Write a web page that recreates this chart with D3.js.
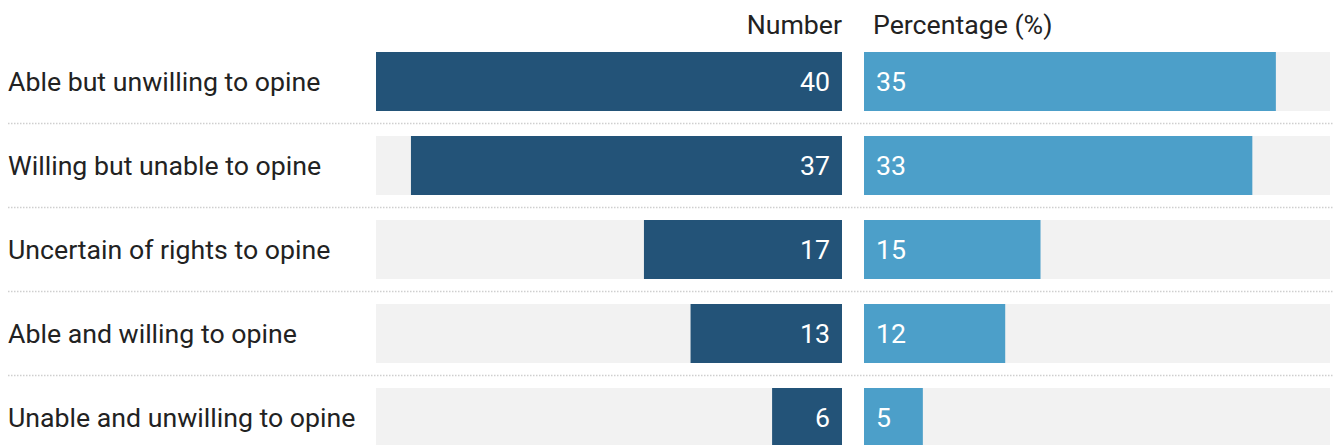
<!DOCTYPE html>
<html>
<head>
<meta charset="utf-8">
<script src="https://cdn.jsdelivr.net/npm/d3@7"></script>
<style>
  html, body { margin: 0; padding: 0; background: #fff; overflow: hidden; }
  svg { display: block; font-family: Roboto, "Noto Sans", sans-serif; }
</style>
</head>
<body>
<svg id="chart" width="1334" height="445"></svg>
<script>
// Categories and values
const categories = [
  "Able but unwilling to opine",
  "Willing but unable to opine",
  "Uncertain of rights to opine",
  "Able and willing to opine",
  "Unable and unwilling to opine"
];
const numbers = [40, 37, 17, 13, 6];
const percentages = [35, 33, 15, 12, 5];
const headers = ["Number", "Percentage (%)"];

const svg = d3.select("#chart");

const rowTop = 52, rowStep = 84, barH = 59, gap = rowStep - barH;
const numLeft = 376, numRight = 842;
const pctLeft = 864, pctRight = 1330;
const fontSize = 26.7;

const y = d3.scaleBand()
  .domain(categories)
  .range([rowTop, rowTop + rowStep * categories.length - gap])
  .paddingInner(gap / rowStep)
  .paddingOuter(0);

const xNum = d3.scaleLinear().domain([0, 40]).range([0, numRight - numLeft]);
const xPct = d3.scaleLinear().domain([0, 39.6]).range([0, pctRight - pctLeft]);

const data = categories.map((c, i) => ({ c, n: numbers[i], p: percentages[i] }));

// Dotted separators between rows
svg.append("g").selectAll("line")
  .data(categories.slice(1))
  .join("line")
  .attr("x1", 8).attr("x2", 1334)
  .attr("y1", d => y(d) - gap / 2)
  .attr("y2", d => y(d) - gap / 2)
  .attr("stroke", "#cfcfcf")
  .attr("stroke-width", 1.5)
  .attr("stroke-dasharray", "1.5,1.5");

// Headers
svg.append("text")
  .attr("x", numRight).attr("y", 34)
  .attr("text-anchor", "end")
  .attr("font-size", fontSize).attr("fill", "#222")
  .text(headers[0]);
svg.append("text")
  .attr("x", pctLeft + 9).attr("y", 34)
  .attr("font-size", fontSize).attr("fill", "#222")
  .text(headers[1]);

const rows = svg.append("g").selectAll("g")
  .data(data)
  .join("g")
  .attr("transform", d => `translate(0,${y(d.c)})`);

// Category labels
rows.append("text")
  .attr("x", 8).attr("y", y.bandwidth() / 2 + 9)
  .attr("font-size", fontSize).attr("fill", "#222")
  .text(d => d.c);

// Background tracks
rows.append("rect")
  .attr("x", numLeft).attr("width", numRight - numLeft)
  .attr("height", y.bandwidth()).attr("fill", "#f2f2f2");
rows.append("rect")
  .attr("x", pctLeft).attr("width", pctRight - pctLeft)
  .attr("height", y.bandwidth()).attr("fill", "#f2f2f2");

// Number bars (right-aligned)
rows.append("rect")
  .attr("x", d => numRight - xNum(d.n))
  .attr("width", d => xNum(d.n))
  .attr("height", y.bandwidth())
  .attr("fill", "#235378");
rows.append("text")
  .attr("x", numRight - 12).attr("y", y.bandwidth() / 2 + 9)
  .attr("text-anchor", "end")
  .attr("font-size", fontSize).attr("fill", "#fff")
  .text(d => d.n);

// Percentage bars (left-aligned)
rows.append("rect")
  .attr("x", pctLeft)
  .attr("width", d => xPct(d.p))
  .attr("height", y.bandwidth())
  .attr("fill", "#4c9fc9");
rows.append("text")
  .attr("x", pctLeft + 12).attr("y", y.bandwidth() / 2 + 9)
  .attr("font-size", fontSize).attr("fill", "#fff")
  .text(d => d.p);
</script>
</body>
</html>
